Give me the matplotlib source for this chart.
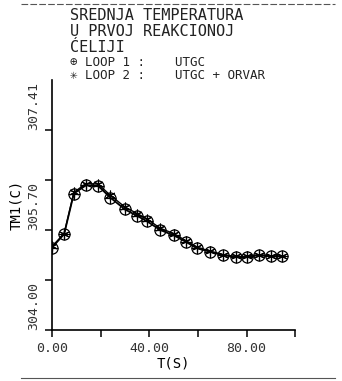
import matplotlib
matplotlib.use("Agg")
import matplotlib.pyplot as plt
import numpy as np

# time (s) and mean temperature (C)
t = [0, 5, 9, 14, 19, 24, 30, 35, 39, 44.5, 50, 55, 59.5, 65, 70.5, 75.5, 80, 85, 90, 94.5]
loop1 = [305.40, 305.63, 306.32, 306.46, 306.45, 306.25, 306.05, 305.94, 305.85, 305.70,
         305.61, 305.50, 305.39, 305.33, 305.27, 305.24, 305.24, 305.27, 305.25, 305.25]
loop2 = [305.42, 305.64, 306.34, 306.49, 306.48, 306.29, 306.09, 305.98, 305.89, 305.73,
         305.64, 305.52, 305.41, 305.34, 305.28, 305.25, 305.25, 305.28, 305.26, 305.26]

yticks = [304.00, 304.85, 305.70, 306.55, 307.40]
ytick_labels = ["304.00", "", "305.70", "", "307.41"]
xticks = [0, 20, 40, 60, 80, 100]
xtick_labels = ["0.00", "", "40.00", "", "80.00", ""]

title_lines = ["SREDNJA TEMPERATURA", "U PRVOJ REAKCIONOJ", "ĆELIJI"]
legend_lines = ["LOOP 1 :    UTGC", "LOOP 2 :    UTGC + ORVAR"]

plt.rcParams['font.family'] = 'DejaVu Sans Mono'
fig = plt.figure(figsize=(3.42, 3.81), dpi=100)
ax = fig.add_axes([0.152, 0.134, 0.711, 0.656])

ax.plot(t, loop1, color='black', lw=1.3)
ax.plot(t, loop2, color='black', lw=1.0)
ax.plot(t, loop1, ls='none', marker='o', ms=8, mfc='none', mec='black', mew=0.9)
ax.plot(t, loop1, ls='none', marker='+', ms=8, color='black', mew=0.9)
ax.plot(t, loop2, ls='none', marker=(6, 2, 0), ms=7, color='black', mew=0.8)

ax.set_xlim(0, 100)
ax.set_ylim(304.0, 308.25)
ax.set_xticks(xticks)
ax.set_xticklabels(xtick_labels, fontsize=9.5, color='#333333')
ax.set_yticks(yticks)
ax.set_yticklabels(ytick_labels, fontsize=9.5, rotation=90, va='bottom', color='#333333')
ax.tick_params(direction='out', length=5, width=1.1)
ax.spines['top'].set_visible(False)
ax.spines['right'].set_visible(False)
ax.spines['left'].set_linewidth(1.2)
ax.spines['bottom'].set_linewidth(1.2)
ax.set_xlabel("T(S)", fontsize=10, labelpad=1)
ax.set_ylabel("TM1(C)", fontsize=10, labelpad=3)

y0 = 0.98
for i, line in enumerate(title_lines):
    fig.text(0.205, y0 - i * 0.042, line, fontsize=11, va='top', color='#222222')
fig.text(0.205, 0.852, "⊕ " + legend_lines[0], fontsize=9, va='top', color='#222222')
fig.text(0.205, 0.818, "✳ " + legend_lines[1], fontsize=9, va='top', color='#222222')

# scan edges
fig.add_artist(plt.Line2D([0.06, 0.98], [0.99, 0.99], color='#555555', lw=0.8, ls=(0, (6, 2))))
fig.add_artist(plt.Line2D([0.06, 0.98], [0.008, 0.008], color='#555555', lw=0.8))

fig.savefig("out.png", dpi=100)
